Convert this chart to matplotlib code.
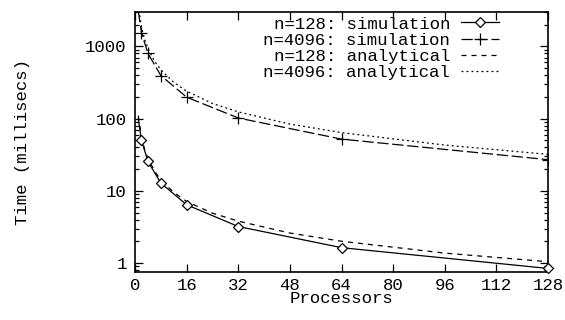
import matplotlib
matplotlib.use("Agg")
import matplotlib.pyplot as plt
from matplotlib.ticker import LogLocator, NullFormatter, FixedLocator

plt.rcParams['font.family'] = ['Liberation Mono', 'DejaVu Sans Mono']

# Simulation data
procs_sim = [1, 2, 4, 8, 16, 32, 64, 128]
sim_128 = [100, 50, 25.5, 12.8, 6.4, 3.2, 1.63, 0.84]
sim_4096 = [3100, 1550, 800, 395, 198, 102, 52, 27]

# Analytical curves
procs_an = [1, 2, 3, 4, 6, 8, 12, 16, 24, 32, 48, 64, 96, 128]
an_128 = [110, 56, 37, 28, 19, 14, 9.5, 7.1, 4.9, 3.8, 2.6, 2.0, 1.37, 1.04]
an_4096 = [3700, 1850, 1250, 940, 630, 475, 318, 240, 162, 124, 84, 64, 43, 32]

labels = ["n=128: simulation", "n=4096: simulation",
          "n=128: analytical", "n=4096: analytical"]
xticks = [0, 16, 32, 48, 64, 80, 96, 112, 128]
yticks = [1, 10, 100, 1000]

FS = 12.5

fig = plt.figure(figsize=(5.65, 3.2), dpi=100)
ax = fig.add_axes([0.239, 0.15, 0.731, 0.8125])

ax.plot(procs_sim, sim_128, color='black', lw=0.9, marker='D', ms=5.5,
        mfc='white', mec='black', mew=0.9, markevery=slice(1, None),
        label=labels[0], clip_on=False, zorder=3)
ax.plot(procs_sim, sim_4096, color='black', lw=0.9, marker='+', ms=9,
        mew=0.9, dashes=(9, 3), markevery=slice(1, None),
        label=labels[1], zorder=3)
ax.plot(procs_an, an_128, color='black', lw=0.9, dashes=(4, 4), label=labels[2])
ax.plot(procs_an, an_4096, color='black', lw=0.9, dashes=(1.5, 2.5), label=labels[3])

ax.set_yscale('log')
ax.set_xlim(0, 128)
ax.set_ylim(0.75, 3000)
ax.xaxis.set_major_locator(FixedLocator(xticks))
ax.set_xticklabels([str(t) for t in xticks])
ax.yaxis.set_major_locator(FixedLocator(yticks))
ax.set_yticklabels([str(t) for t in yticks])
ax.yaxis.set_minor_locator(LogLocator(base=10, subs=range(2, 10)))
ax.yaxis.set_minor_formatter(NullFormatter())

ax.tick_params(which='both', direction='in', top=True, right=True,
               labelsize=FS, width=0.9)
ax.tick_params(which='major', length=6)
ax.tick_params(axis='x', which='major', pad=4)
ax.tick_params(axis='y', which='major', pad=6)
ax.tick_params(which='minor', length=3)
for s in ax.spines.values():
    s.set_linewidth(1.2)

ax.set_xlabel("Processors", fontsize=FS, labelpad=-1)
ax.set_ylabel("Time (millisecs)", fontsize=FS, labelpad=40)

leg = ax.legend(loc='upper right', bbox_to_anchor=(0.91, 1.03), frameon=False,
                markerfirst=False, fontsize=FS, handlelength=2.2,
                handletextpad=0.6, labelspacing=0.06, numpoints=1,
                borderaxespad=0.3)

fig.savefig("out.png", dpi=100)
